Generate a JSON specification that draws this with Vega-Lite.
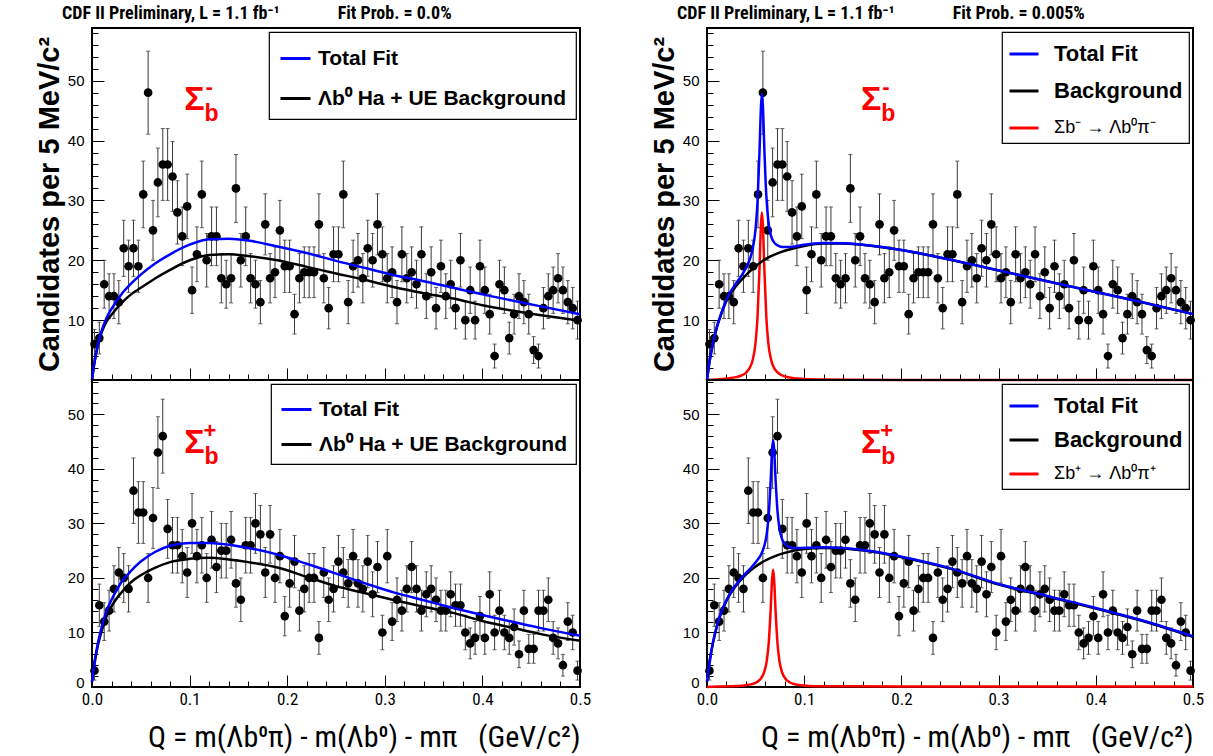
{
"$schema":"https://vega.github.io/schema/vega-lite/v6.json",
"background":"white",
"padding":{"left":34,"top":3,"right":5,"bottom":5},
"config":{"view":{"stroke":"black","strokeWidth":2},"font":"Liberation Sans","axis":{"grid":false,"domain":false,"tickColor":"black","labelColor":"black","titleColor":"black","tickWidth":1},"legend":{"orient":"top-right","offset":4,"fillColor":"white","strokeColor":"black","strokeWidth":1.2,"symbolType":"stroke","symbolStrokeWidth":3,"labelFont":"Liberation Sans","labelColor":"black","labelLimit":400}},
"datasets":{
"minus":[
{"q":0.0025,"v":6,"lo":3.55,"hi":8.45},{"q":0.0075,"v":7,"lo":4.35,"hi":9.65},{"q":0.0125,"v":16,"lo":12,"hi":20},{"q":0.0175,"v":14,"lo":10.26,"hi":17.74},{"q":0.0225,"v":14,"lo":10.26,"hi":17.74},{"q":0.0275,"v":13,"lo":9.39,"hi":16.61},{"q":0.0325,"v":22,"lo":17.31,"hi":26.69},{"q":0.0375,"v":19,"lo":14.64,"hi":23.36},{"q":0.0425,"v":22,"lo":17.31,"hi":26.69},{"q":0.0475,"v":19,"lo":14.64,"hi":23.36},
{"q":0.0525,"v":31,"lo":25.43,"hi":36.57},{"q":0.0575,"v":48,"lo":41.07,"hi":54.93},{"q":0.0625,"v":25,"lo":20,"hi":30},{"q":0.0675,"v":33,"lo":27.26,"hi":38.74},{"q":0.0725,"v":36,"lo":30,"hi":42},{"q":0.0775,"v":36,"lo":30,"hi":42},{"q":0.0825,"v":34,"lo":28.17,"hi":39.83},{"q":0.0875,"v":28,"lo":22.71,"hi":33.29},{"q":0.0925,"v":24,"lo":19.1,"hi":28.9},{"q":0.0975,"v":29,"lo":23.61,"hi":34.39},
{"q":0.1025,"v":15,"lo":11.13,"hi":18.87},{"q":0.1075,"v":21,"lo":16.42,"hi":25.58},{"q":0.1125,"v":31,"lo":25.43,"hi":36.57},{"q":0.1175,"v":20,"lo":15.53,"hi":24.47},{"q":0.1225,"v":24,"lo":19.1,"hi":28.9},{"q":0.1275,"v":24,"lo":19.1,"hi":28.9},{"q":0.1325,"v":17,"lo":12.88,"hi":21.12},{"q":0.1375,"v":16,"lo":12,"hi":20},{"q":0.1425,"v":17,"lo":12.88,"hi":21.12},{"q":0.1475,"v":32,"lo":26.34,"hi":37.66},
{"q":0.1525,"v":20,"lo":15.53,"hi":24.47},{"q":0.1575,"v":24,"lo":19.1,"hi":28.9},{"q":0.1625,"v":17,"lo":12.88,"hi":21.12},{"q":0.1675,"v":16,"lo":12,"hi":20},{"q":0.1725,"v":13,"lo":9.39,"hi":16.61},{"q":0.1775,"v":26,"lo":20.9,"hi":31.1},{"q":0.1825,"v":17,"lo":12.88,"hi":21.12},{"q":0.1875,"v":18,"lo":13.76,"hi":22.24},{"q":0.1925,"v":25,"lo":20,"hi":30},{"q":0.1975,"v":19,"lo":14.64,"hi":23.36},
{"q":0.2025,"v":19,"lo":14.64,"hi":23.36},{"q":0.2075,"v":11,"lo":7.68,"hi":14.32},{"q":0.2125,"v":17,"lo":12.88,"hi":21.12},{"q":0.2175,"v":18,"lo":13.76,"hi":22.24},{"q":0.2225,"v":18,"lo":13.76,"hi":22.24},{"q":0.2275,"v":18,"lo":13.76,"hi":22.24},{"q":0.2325,"v":26,"lo":20.9,"hi":31.1},{"q":0.2375,"v":17,"lo":12.88,"hi":21.12},{"q":0.2425,"v":12,"lo":8.54,"hi":15.46},{"q":0.2475,"v":21,"lo":16.42,"hi":25.58},
{"q":0.2525,"v":21,"lo":16.42,"hi":25.58},{"q":0.2575,"v":31,"lo":25.43,"hi":36.57},{"q":0.2625,"v":13,"lo":9.39,"hi":16.61},{"q":0.2675,"v":19,"lo":14.64,"hi":23.36},{"q":0.2725,"v":20,"lo":15.53,"hi":24.47},{"q":0.2775,"v":17,"lo":12.88,"hi":21.12},{"q":0.2825,"v":22,"lo":17.31,"hi":26.69},{"q":0.2875,"v":20,"lo":15.53,"hi":24.47},{"q":0.2925,"v":26,"lo":20.9,"hi":31.1},{"q":0.2975,"v":21,"lo":16.42,"hi":25.58},
{"q":0.3025,"v":17,"lo":12.88,"hi":21.12},{"q":0.3075,"v":18,"lo":13.76,"hi":22.24},{"q":0.3125,"v":13,"lo":9.39,"hi":16.61},{"q":0.3175,"v":21,"lo":16.42,"hi":25.58},{"q":0.3225,"v":17,"lo":12.88,"hi":21.12},{"q":0.3275,"v":18,"lo":13.76,"hi":22.24},{"q":0.3325,"v":16,"lo":12,"hi":20},{"q":0.3375,"v":21,"lo":16.42,"hi":25.58},{"q":0.3425,"v":14,"lo":10.26,"hi":17.74},{"q":0.3475,"v":18,"lo":13.76,"hi":22.24},
{"q":0.3525,"v":12,"lo":8.54,"hi":15.46},{"q":0.3575,"v":19,"lo":14.64,"hi":23.36},{"q":0.3625,"v":14,"lo":10.26,"hi":17.74},{"q":0.3675,"v":16,"lo":12,"hi":20},{"q":0.3725,"v":12,"lo":8.54,"hi":15.46},{"q":0.3775,"v":20,"lo":15.53,"hi":24.47},{"q":0.3825,"v":10,"lo":6.84,"hi":13.16},{"q":0.3875,"v":15,"lo":11.13,"hi":18.87},{"q":0.3925,"v":10,"lo":6.84,"hi":13.16},{"q":0.3975,"v":19,"lo":14.64,"hi":23.36},
{"q":0.4025,"v":15,"lo":11.13,"hi":18.87},{"q":0.4075,"v":11,"lo":7.68,"hi":14.32},{"q":0.4125,"v":4,"lo":2,"hi":6},{"q":0.4175,"v":16,"lo":12,"hi":20},{"q":0.4225,"v":15,"lo":11.13,"hi":18.87},{"q":0.4275,"v":7,"lo":4.35,"hi":9.65},{"q":0.4325,"v":11,"lo":7.68,"hi":14.32},{"q":0.4375,"v":14,"lo":10.26,"hi":17.74},{"q":0.4425,"v":13,"lo":9.39,"hi":16.61},{"q":0.4475,"v":11,"lo":7.68,"hi":14.32},
{"q":0.4525,"v":5,"lo":2.76,"hi":7.24},{"q":0.4575,"v":4,"lo":2,"hi":6},{"q":0.4625,"v":12,"lo":8.54,"hi":15.46},{"q":0.4675,"v":14,"lo":10.26,"hi":17.74},{"q":0.4725,"v":15,"lo":11.13,"hi":18.87},{"q":0.4775,"v":17,"lo":12.88,"hi":21.12},{"q":0.4825,"v":15,"lo":11.13,"hi":18.87},{"q":0.4875,"v":13,"lo":9.39,"hi":16.61},{"q":0.4925,"v":12,"lo":8.54,"hi":15.46},{"q":0.4975,"v":10,"lo":6.84,"hi":13.16}
],
"plus":[
{"q":0.0025,"v":3,"lo":1.27,"hi":4.73},{"q":0.0075,"v":15,"lo":11.13,"hi":18.87},{"q":0.0125,"v":12,"lo":8.54,"hi":15.46},{"q":0.0175,"v":14,"lo":10.26,"hi":17.74},{"q":0.0225,"v":18,"lo":13.76,"hi":22.24},{"q":0.0275,"v":21,"lo":16.42,"hi":25.58},{"q":0.0325,"v":20,"lo":15.53,"hi":24.47},{"q":0.0375,"v":18,"lo":13.76,"hi":22.24},{"q":0.0425,"v":36,"lo":30,"hi":42},{"q":0.0475,"v":32,"lo":26.34,"hi":37.66},
{"q":0.0525,"v":32,"lo":26.34,"hi":37.66},{"q":0.0575,"v":20,"lo":15.53,"hi":24.47},{"q":0.0625,"v":31,"lo":25.43,"hi":36.57},{"q":0.0675,"v":43,"lo":36.44,"hi":49.56},{"q":0.0725,"v":46,"lo":39.22,"hi":52.78},{"q":0.0775,"v":29,"lo":23.61,"hi":34.39},{"q":0.0825,"v":26,"lo":20.9,"hi":31.1},{"q":0.0875,"v":26,"lo":20.9,"hi":31.1},{"q":0.0925,"v":24,"lo":19.1,"hi":28.9},{"q":0.0975,"v":21,"lo":16.42,"hi":25.58},
{"q":0.1025,"v":30,"lo":24.52,"hi":35.48},{"q":0.1075,"v":24,"lo":19.1,"hi":28.9},{"q":0.1125,"v":26,"lo":20.9,"hi":31.1},{"q":0.1175,"v":20,"lo":15.53,"hi":24.47},{"q":0.1225,"v":27,"lo":21.8,"hi":32.2},{"q":0.1275,"v":22,"lo":17.31,"hi":26.69},{"q":0.1325,"v":25,"lo":20,"hi":30},{"q":0.1375,"v":25,"lo":20,"hi":30},{"q":0.1425,"v":27,"lo":21.8,"hi":32.2},{"q":0.1475,"v":19,"lo":14.64,"hi":23.36},
{"q":0.1525,"v":16,"lo":12,"hi":20},{"q":0.1575,"v":26,"lo":20.9,"hi":31.1},{"q":0.1625,"v":26,"lo":20.9,"hi":31.1},{"q":0.1675,"v":30,"lo":24.52,"hi":35.48},{"q":0.1725,"v":28,"lo":22.71,"hi":33.29},{"q":0.1775,"v":21,"lo":16.42,"hi":25.58},{"q":0.1825,"v":28,"lo":22.71,"hi":33.29},{"q":0.1875,"v":20,"lo":15.53,"hi":24.47},{"q":0.1925,"v":24,"lo":19.1,"hi":28.9},{"q":0.1975,"v":13,"lo":9.39,"hi":16.61},
{"q":0.2025,"v":19,"lo":14.64,"hi":23.36},{"q":0.2075,"v":23,"lo":18.2,"hi":27.8},{"q":0.2125,"v":14,"lo":10.26,"hi":17.74},{"q":0.2175,"v":18,"lo":13.76,"hi":22.24},{"q":0.2225,"v":20,"lo":15.53,"hi":24.47},{"q":0.2275,"v":20,"lo":15.53,"hi":24.47},{"q":0.2325,"v":9,"lo":6,"hi":12},{"q":0.2375,"v":21,"lo":16.42,"hi":25.58},{"q":0.2425,"v":16,"lo":12,"hi":20},{"q":0.2475,"v":18,"lo":13.76,"hi":22.24},
{"q":0.2525,"v":23,"lo":18.2,"hi":27.8},{"q":0.2575,"v":21,"lo":16.42,"hi":25.58},{"q":0.2625,"v":19,"lo":14.64,"hi":23.36},{"q":0.2675,"v":24,"lo":19.1,"hi":28.9},{"q":0.2725,"v":19,"lo":14.64,"hi":23.36},{"q":0.2775,"v":18,"lo":13.76,"hi":22.24},{"q":0.2825,"v":23,"lo":18.2,"hi":27.8},{"q":0.2875,"v":17,"lo":12.88,"hi":21.12},{"q":0.2925,"v":22,"lo":17.31,"hi":26.69},{"q":0.2975,"v":10,"lo":6.84,"hi":13.16},
{"q":0.3025,"v":24,"lo":19.1,"hi":28.9},{"q":0.3075,"v":12,"lo":8.54,"hi":15.46},{"q":0.3125,"v":16,"lo":12,"hi":20},{"q":0.3175,"v":14,"lo":10.26,"hi":17.74},{"q":0.3225,"v":18,"lo":13.76,"hi":22.24},{"q":0.3275,"v":22,"lo":17.31,"hi":26.69},{"q":0.3325,"v":18,"lo":13.76,"hi":22.24},{"q":0.3375,"v":14,"lo":10.26,"hi":17.74},{"q":0.3425,"v":17,"lo":12.88,"hi":21.12},{"q":0.3475,"v":18,"lo":13.76,"hi":22.24},
{"q":0.3525,"v":16,"lo":12,"hi":20},{"q":0.3575,"v":14,"lo":10.26,"hi":17.74},{"q":0.3625,"v":14,"lo":10.26,"hi":17.74},{"q":0.3675,"v":17,"lo":12.88,"hi":21.12},{"q":0.3725,"v":15,"lo":11.13,"hi":18.87},{"q":0.3775,"v":15,"lo":11.13,"hi":18.87},{"q":0.3825,"v":10,"lo":6.84,"hi":13.16},{"q":0.3875,"v":8,"lo":5.17,"hi":10.83},{"q":0.3925,"v":9,"lo":6,"hi":12},{"q":0.3975,"v":13,"lo":9.39,"hi":16.61},
{"q":0.4025,"v":9,"lo":6,"hi":12},{"q":0.4075,"v":17,"lo":12.88,"hi":21.12},{"q":0.4125,"v":10,"lo":6.84,"hi":13.16},{"q":0.4175,"v":14,"lo":10.26,"hi":17.74},{"q":0.4225,"v":10,"lo":6.84,"hi":13.16},{"q":0.4275,"v":9,"lo":6,"hi":12},{"q":0.4325,"v":11,"lo":7.68,"hi":14.32},{"q":0.4375,"v":6,"lo":3.55,"hi":8.45},{"q":0.4425,"v":14,"lo":10.26,"hi":17.74},{"q":0.4475,"v":7,"lo":4.35,"hi":9.65},
{"q":0.4525,"v":7,"lo":4.35,"hi":9.65},{"q":0.4575,"v":14,"lo":10.26,"hi":17.74},{"q":0.4625,"v":14,"lo":10.26,"hi":17.74},{"q":0.4675,"v":16,"lo":12,"hi":20},{"q":0.4725,"v":9,"lo":6,"hi":12},{"q":0.4775,"v":8,"lo":5.17,"hi":10.83},{"q":0.4825,"v":4,"lo":2,"hi":6},{"q":0.4875,"v":12,"lo":8.54,"hi":15.46},{"q":0.4925,"v":10,"lo":6.84,"hi":13.16},{"q":0.4975,"v":3,"lo":1.27,"hi":4.73}
],
"cTL":[
{"q":0,"v":0,"c":"B"},{"q":0.002,"v":2.4,"c":"B"},{"q":0.005,"v":5.0,"c":"B"},{"q":0.01,"v":8.0,"c":"B"},{"q":0.015,"v":9.8,"c":"B"},{"q":0.02,"v":10.9,"c":"B"},{"q":0.03,"v":12.8,"c":"B"},{"q":0.04,"v":14.3,"c":"B"},{"q":0.05,"v":15.4,"c":"B"},{"q":0.065,"v":17.0,"c":"B"},{"q":0.08,"v":18.4,"c":"B"},{"q":0.1,"v":20.0,"c":"B"},{"q":0.12,"v":20.9,"c":"B"},{"q":0.14,"v":21.0,"c":"B"},{"q":0.16,"v":20.7,"c":"B"},{"q":0.19,"v":20.0,"c":"B"},{"q":0.22,"v":18.9,"c":"B"},{"q":0.25,"v":17.8,"c":"B"},{"q":0.28,"v":16.7,"c":"B"},{"q":0.31,"v":15.5,"c":"B"},{"q":0.34,"v":14.5,"c":"B"},{"q":0.37,"v":13.6,"c":"B"},{"q":0.4,"v":12.5,"c":"B"},{"q":0.43,"v":11.6,"c":"B"},{"q":0.46,"v":10.8,"c":"B"},{"q":0.5,"v":9.9,"c":"B"},
{"q":0,"v":0,"c":"T"},{"q":0.002,"v":2.4,"c":"T"},{"q":0.005,"v":5.2,"c":"T"},{"q":0.01,"v":8.3,"c":"T"},{"q":0.015,"v":10.4,"c":"T"},{"q":0.02,"v":11.9,"c":"T"},{"q":0.03,"v":14.3,"c":"T"},{"q":0.04,"v":16.1,"c":"T"},{"q":0.05,"v":17.6,"c":"T"},{"q":0.065,"v":19.5,"c":"T"},{"q":0.08,"v":21.0,"c":"T"},{"q":0.1,"v":22.6,"c":"T"},{"q":0.12,"v":23.5,"c":"T"},{"q":0.14,"v":23.6,"c":"T"},{"q":0.16,"v":23.3,"c":"T"},{"q":0.19,"v":22.3,"c":"T"},{"q":0.22,"v":21.2,"c":"T"},{"q":0.25,"v":19.9,"c":"T"},{"q":0.28,"v":18.7,"c":"T"},{"q":0.31,"v":17.5,"c":"T"},{"q":0.34,"v":16.5,"c":"T"},{"q":0.37,"v":15.4,"c":"T"},{"q":0.4,"v":14.3,"c":"T"},{"q":0.43,"v":13.3,"c":"T"},{"q":0.46,"v":12.3,"c":"T"},{"q":0.5,"v":11.0,"c":"T"}
],
"cBL":[
{"q":0,"v":1,"c":"B"},{"q":0.003,"v":4.8,"c":"B"},{"q":0.006,"v":7.6,"c":"B"},{"q":0.01,"v":10.4,"c":"B"},{"q":0.015,"v":13,"c":"B"},{"q":0.02,"v":14.8,"c":"B"},{"q":0.03,"v":17.3,"c":"B"},{"q":0.04,"v":19.2,"c":"B"},{"q":0.05,"v":20.5,"c":"B"},{"q":0.065,"v":21.9,"c":"B"},{"q":0.08,"v":22.9,"c":"B"},{"q":0.1,"v":23.5,"c":"B"},{"q":0.12,"v":23.7,"c":"B"},{"q":0.14,"v":23.4,"c":"B"},{"q":0.16,"v":22.9,"c":"B"},{"q":0.19,"v":21.9,"c":"B"},{"q":0.22,"v":20.2,"c":"B"},{"q":0.25,"v":18.5,"c":"B"},{"q":0.28,"v":17.2,"c":"B"},{"q":0.31,"v":15.9,"c":"B"},{"q":0.34,"v":14.7,"c":"B"},{"q":0.37,"v":13.6,"c":"B"},{"q":0.4,"v":12.1,"c":"B"},{"q":0.43,"v":10.9,"c":"B"},{"q":0.46,"v":9.7,"c":"B"},{"q":0.5,"v":8.5,"c":"B"},
{"q":0,"v":1,"c":"T"},{"q":0.003,"v":5,"c":"T"},{"q":0.006,"v":8,"c":"T"},{"q":0.01,"v":11,"c":"T"},{"q":0.015,"v":14,"c":"T"},{"q":0.02,"v":16,"c":"T"},{"q":0.03,"v":19.2,"c":"T"},{"q":0.04,"v":21.3,"c":"T"},{"q":0.05,"v":23,"c":"T"},{"q":0.065,"v":24.8,"c":"T"},{"q":0.08,"v":25.9,"c":"T"},{"q":0.1,"v":26.4,"c":"T"},{"q":0.12,"v":26.4,"c":"T"},{"q":0.14,"v":26.1,"c":"T"},{"q":0.16,"v":25.5,"c":"T"},{"q":0.19,"v":24.3,"c":"T"},{"q":0.22,"v":22.6,"c":"T"},{"q":0.25,"v":20.8,"c":"T"},{"q":0.28,"v":19.0,"c":"T"},{"q":0.31,"v":17.3,"c":"T"},{"q":0.34,"v":15.9,"c":"T"},{"q":0.37,"v":14.5,"c":"T"},{"q":0.4,"v":13.2,"c":"T"},{"q":0.43,"v":12.0,"c":"T"},{"q":0.46,"v":10.8,"c":"T"},{"q":0.5,"v":9.4,"c":"T"}
],
"cTR":[
{"q":0,"v":0,"c":"S"},{"q":0.01,"v":0.1,"c":"S"},{"q":0.02,"v":0.25,"c":"S"},{"q":0.03,"v":0.48,"c":"S"},{"q":0.035,"v":0.72,"c":"S"},{"q":0.04,"v":1.2,"c":"S"},{"q":0.044,"v":2.05,"c":"S"},{"q":0.047,"v":3.35,"c":"S"},{"q":0.05,"v":6.3,"c":"S"},{"q":0.052,"v":10.6,"c":"S"},{"q":0.054,"v":18.5,"c":"S"},{"q":0.0555,"v":25.9,"c":"S"},{"q":0.0565,"v":28,"c":"S"},{"q":0.0575,"v":25.9,"c":"S"},{"q":0.059,"v":18.5,"c":"S"},{"q":0.061,"v":10.6,"c":"S"},{"q":0.063,"v":6.3,"c":"S"},{"q":0.066,"v":3.35,"c":"S"},{"q":0.07,"v":1.76,"c":"S"},{"q":0.075,"v":0.97,"c":"S"},{"q":0.08,"v":0.6,"c":"S"},{"q":0.09,"v":0.3,"c":"S"},{"q":0.1,"v":0.18,"c":"S"},{"q":0.12,"v":0.08,"c":"S"},{"q":0.15,"v":0.04,"c":"S"},{"q":0.2,"v":0.02,"c":"S"},{"q":0.3,"v":0.01,"c":"S"},{"q":0.5,"v":0.01,"c":"S"},
{"q":0,"v":0,"c":"B"},{"q":0.003,"v":3.5,"c":"B"},{"q":0.006,"v":6,"c":"B"},{"q":0.01,"v":8.7,"c":"B"},{"q":0.015,"v":11.2,"c":"B"},{"q":0.02,"v":13.2,"c":"B"},{"q":0.03,"v":15.7,"c":"B"},{"q":0.04,"v":17.5,"c":"B"},{"q":0.05,"v":19.0,"c":"B"},{"q":0.06,"v":20.2,"c":"B"},{"q":0.07,"v":21.0,"c":"B"},{"q":0.08,"v":21.6,"c":"B"},{"q":0.1,"v":22.4,"c":"B"},{"q":0.12,"v":22.8,"c":"B"},{"q":0.14,"v":22.8,"c":"B"},{"q":0.17,"v":22.4,"c":"B"},{"q":0.2,"v":21.7,"c":"B"},{"q":0.25,"v":20.1,"c":"B"},{"q":0.3,"v":18.3,"c":"B"},{"q":0.35,"v":16.5,"c":"B"},{"q":0.4,"v":14.7,"c":"B"},{"q":0.45,"v":12.9,"c":"B"},{"q":0.5,"v":11.0,"c":"B"},
{"q":0,"v":0,"c":"T"},{"q":0.003,"v":3.5,"c":"T"},{"q":0.006,"v":6,"c":"T"},{"q":0.01,"v":8.8,"c":"T"},{"q":0.015,"v":11.3,"c":"T"},{"q":0.02,"v":13.45,"c":"T"},{"q":0.03,"v":16.2,"c":"T"},{"q":0.035,"v":17.3,"c":"T"},{"q":0.04,"v":18.7,"c":"T"},{"q":0.044,"v":20.15,"c":"T"},{"q":0.047,"v":21.9,"c":"T"},{"q":0.05,"v":25.3,"c":"T"},{"q":0.052,"v":29.8,"c":"T"},{"q":0.054,"v":38.0,"c":"T"},{"q":0.0555,"v":45.6,"c":"T"},{"q":0.0565,"v":47.8,"c":"T"},{"q":0.0575,"v":45.8,"c":"T"},{"q":0.059,"v":38.6,"c":"T"},{"q":0.061,"v":30.9,"c":"T"},{"q":0.063,"v":26.7,"c":"T"},{"q":0.066,"v":24.0,"c":"T"},{"q":0.07,"v":22.8,"c":"T"},{"q":0.075,"v":22.3,"c":"T"},{"q":0.08,"v":22.2,"c":"T"},{"q":0.09,"v":22.3,"c":"T"},{"q":0.1,"v":22.6,"c":"T"},{"q":0.12,"v":22.9,"c":"T"},{"q":0.14,"v":22.85,"c":"T"},{"q":0.17,"v":22.42,"c":"T"},{"q":0.2,"v":21.72,"c":"T"},{"q":0.25,"v":20.11,"c":"T"},{"q":0.3,"v":18.31,"c":"T"},{"q":0.35,"v":16.5,"c":"T"},{"q":0.4,"v":14.7,"c":"T"},{"q":0.45,"v":12.9,"c":"T"},{"q":0.5,"v":11.0,"c":"T"}
],
"cBR":[
{"q":0,"v":0,"c":"S"},{"q":0.01,"v":0.08,"c":"S"},{"q":0.02,"v":0.12,"c":"S"},{"q":0.03,"v":0.18,"c":"S"},{"q":0.04,"v":0.33,"c":"S"},{"q":0.046,"v":0.53,"c":"S"},{"q":0.0515,"v":0.93,"c":"S"},{"q":0.055,"v":1.45,"c":"S"},{"q":0.0585,"v":2.57,"c":"S"},{"q":0.0615,"v":4.8,"c":"S"},{"q":0.0635,"v":8.1,"c":"S"},{"q":0.0655,"v":14.2,"c":"S"},{"q":0.067,"v":19.85,"c":"S"},{"q":0.068,"v":21.5,"c":"S"},{"q":0.069,"v":19.85,"c":"S"},{"q":0.0705,"v":14.2,"c":"S"},{"q":0.0725,"v":8.1,"c":"S"},{"q":0.0745,"v":4.8,"c":"S"},{"q":0.0775,"v":2.57,"c":"S"},{"q":0.0805,"v":1.57,"c":"S"},{"q":0.0845,"v":0.93,"c":"S"},{"q":0.0895,"v":0.55,"c":"S"},{"q":0.0945,"v":0.37,"c":"S"},{"q":0.1045,"v":0.2,"c":"S"},{"q":0.12,"v":0.15,"c":"S"},{"q":0.15,"v":0.12,"c":"S"},{"q":0.2,"v":0.1,"c":"S"},{"q":0.3,"v":0.1,"c":"S"},{"q":0.4,"v":0.1,"c":"S"},{"q":0.5,"v":0.1,"c":"S"},
{"q":0,"v":1,"c":"B"},{"q":0.003,"v":5,"c":"B"},{"q":0.006,"v":8,"c":"B"},{"q":0.01,"v":11,"c":"B"},{"q":0.015,"v":13.8,"c":"B"},{"q":0.02,"v":15.8,"c":"B"},{"q":0.03,"v":18.6,"c":"B"},{"q":0.04,"v":20.6,"c":"B"},{"q":0.05,"v":22.1,"c":"B"},{"q":0.06,"v":23.2,"c":"B"},{"q":0.07,"v":24.0,"c":"B"},{"q":0.08,"v":24.6,"c":"B"},{"q":0.1,"v":25.3,"c":"B"},{"q":0.12,"v":25.5,"c":"B"},{"q":0.14,"v":25.4,"c":"B"},{"q":0.17,"v":24.8,"c":"B"},{"q":0.2,"v":23.8,"c":"B"},{"q":0.25,"v":21.7,"c":"B"},{"q":0.3,"v":18.8,"c":"B"},{"q":0.35,"v":16.6,"c":"B"},{"q":0.4,"v":14.4,"c":"B"},{"q":0.45,"v":12.0,"c":"B"},{"q":0.5,"v":9.2,"c":"B"},
{"q":0,"v":1,"c":"T"},{"q":0.003,"v":5,"c":"T"},{"q":0.006,"v":8,"c":"T"},{"q":0.01,"v":11.1,"c":"T"},{"q":0.015,"v":13.9,"c":"T"},{"q":0.02,"v":15.9,"c":"T"},{"q":0.03,"v":18.8,"c":"T"},{"q":0.04,"v":20.9,"c":"T"},{"q":0.046,"v":22.0,"c":"T"},{"q":0.0515,"v":23.2,"c":"T"},{"q":0.055,"v":24.1,"c":"T"},{"q":0.0585,"v":25.6,"c":"T"},{"q":0.0615,"v":28.1,"c":"T"},{"q":0.0635,"v":31.6,"c":"T"},{"q":0.0655,"v":37.8,"c":"T"},{"q":0.067,"v":43.6,"c":"T"},{"q":0.068,"v":45.3,"c":"T"},{"q":0.069,"v":43.8,"c":"T"},{"q":0.0705,"v":38.2,"c":"T"},{"q":0.0725,"v":32.3,"c":"T"},{"q":0.0745,"v":29.1,"c":"T"},{"q":0.0775,"v":27.0,"c":"T"},{"q":0.0805,"v":26.2,"c":"T"},{"q":0.0845,"v":25.7,"c":"T"},{"q":0.0895,"v":25.5,"c":"T"},{"q":0.0945,"v":25.5,"c":"T"},{"q":0.1045,"v":25.55,"c":"T"},{"q":0.12,"v":25.65,"c":"T"},{"q":0.14,"v":25.5,"c":"T"},{"q":0.17,"v":24.9,"c":"T"},{"q":0.2,"v":23.9,"c":"T"},{"q":0.25,"v":21.8,"c":"T"},{"q":0.3,"v":18.9,"c":"T"},{"q":0.35,"v":16.7,"c":"T"},{"q":0.4,"v":14.5,"c":"T"},{"q":0.45,"v":12.1,"c":"T"},{"q":0.5,"v":9.3,"c":"T"}
],
"labels":[
{"p":"TL","q":0.105,"v":46.8,"s":"-"},{"p":"BL","q":0.105,"v":44.7,"s":"+"},{"p":"TR","q":0.169,"v":46.8,"s":"-"},{"p":"BR","q":0.169,"v":44.7,"s":"+"}
]
},
"hconcat":[
{"vconcat":[
{"width":488,"height":352,
"title":{"text":"CDF II Preliminary, L = 1.1 fb⁻¹\u00a0\u00a0\u00a0\u00a0\u00a0\u00a0\u00a0\u00a0\u00a0\u00a0\u00a0\u00a0\u00a0\u00a0Fit Prob. = 0.0%","anchor":"start","frame":"group","dx":-30,"font":"Liberation Sans Narrow, Roboto Condensed, DejaVu Sans Condensed, Liberation Sans","fontSize":18,"fontWeight":"bold","offset":3,"color":"black"},
"encoding":{
"x":{"field":"q","type":"quantitative","scale":{"domain":[0,0.5],"nice":false,"zero":false},"axis":{"values":[0,0.02,0.04,0.06,0.08,0.1,0.12,0.14,0.16,0.18,0.2,0.22,0.24,0.26,0.28,0.3,0.32,0.34,0.36,0.38,0.4,0.42,0.44,0.46,0.48,0.5],"labels":false,"title":null,"tickSize":{"condition":{"test":"abs(datum.value*10-round(datum.value*10))<0.001","value":-12},"value":-6}}},
"y":{"field":"v","type":"quantitative","scale":{"domain":[0,58.8],"nice":false,"zero":true},"axis":{"values":[0,2,4,6,8,10,12,14,16,18,20,22,24,26,28,30,32,34,36,38,40,42,44,46,48,50,52,54,56,58],"labelExpr":"datum.value>0 && datum.value%10==0 ? datum.label : ''","labelOverlap":false,"labelFontSize":15,"labelPadding":20,"title":"Candidates per 5 MeV/c²","titleFontSize":29,"titleFontWeight":"bold","titlePadding":3,"tickSize":{"condition":{"test":"datum.value%10==0","value":-12},"value":-6}}}
},
"layer":[
{"data":{"name":"minus"},"mark":{"type":"errorbar","color":"#3a3a3a","thickness":1,"ticks":{"size":4,"color":"#222222"}},"encoding":{"y":{"field":"lo","type":"quantitative","scale":{"domain":[0,58.8],"nice":false,"zero":true},"axis":{"values":[0,2,4,6,8,10,12,14,16,18,20,22,24,26,28,30,32,34,36,38,40,42,44,46,48,50,52,54,56,58],"labelExpr":"datum.value>0 && datum.value%10==0 ? datum.label : ''","labelOverlap":false,"labelFontSize":15,"labelPadding":20,"title":"Candidates per 5 MeV/c²","titleFontSize":29,"titleFontWeight":"bold","titlePadding":3,"tickSize":{"condition":{"test":"datum.value%10==0","value":-12},"value":-6}}},"y2":{"field":"hi"}}},
{"data":{"name":"minus"},"mark":{"type":"circle","size":75,"color":"black","opacity":1}},
{"data":{"name":"cTL"},"transform":[{"filter":"datum.c!='T'"}],"mark":{"type":"line","strokeWidth":2.5,"interpolate":"monotone"},"encoding":{"color":{"field":"c","type":"nominal","scale":{"domain":["T","B"],"range":["#0000ff","#000000"]},"legend":{"title":null,"padding":10,"symbolSize":900,"labelFontSize":21,"labelFontWeight":"bold","labelOffset":6,"rowPadding":13,"labelExpr":"datum.label=='T' ? '\u00a0\u00a0Total Fit' : 'Λb⁰ Ha + UE Background'"}}}},
{"data":{"name":"cTL"},"transform":[{"filter":"datum.c=='T'"}],"mark":{"type":"line","strokeWidth":2.5,"interpolate":"monotone"},"encoding":{"color":{"field":"c","type":"nominal","scale":{"domain":["T","B"],"range":["#0000ff","#000000"]},"legend":{"title":null,"padding":10,"symbolSize":900,"labelFontSize":21,"labelFontWeight":"bold","labelOffset":6,"rowPadding":13,"labelExpr":"datum.label=='T' ? '\u00a0\u00a0Total Fit' : 'Λb⁰ Ha + UE Background'"}}}},
{"data":{"name":"labels"},"transform":[{"filter":"datum.p=='TL'"}],"mark":{"type":"text","text":"Σ","fontSize":34,"fontWeight":"bold","color":"#ff0000","align":"center","baseline":"middle"}},
{"data":{"name":"labels"},"transform":[{"filter":"datum.p=='TL'"}],"mark":{"type":"text","text":"b","fontSize":23,"fontWeight":"bold","color":"#ff0000","align":"left","baseline":"middle","dx":10,"dy":14}},
{"data":{"name":"labels"},"transform":[{"filter":"datum.p=='TL'"}],"mark":{"type":"text","fontSize":22,"fontWeight":"bold","color":"#ff0000","align":"left","baseline":"middle","dx":11,"dy":-13},"encoding":{"text":{"field":"s"}}}
]},
{"width":488,"height":307,
"encoding":{
"x":{"field":"q","type":"quantitative","scale":{"domain":[0,0.5],"nice":false,"zero":false},"axis":{"values":[0,0.02,0.04,0.06,0.08,0.1,0.12,0.14,0.16,0.18,0.2,0.22,0.24,0.26,0.28,0.3,0.32,0.34,0.36,0.38,0.4,0.42,0.44,0.46,0.48,0.5],"labelExpr":"abs(datum.value*10-round(datum.value*10))<0.001 ? format(datum.value,'.1f') : ''","labelOverlap":false,"labelFlush":false,"labelFont":"Liberation Sans Narrow, Roboto Condensed, DejaVu Sans Condensed, Liberation Sans","labelFontSize":17,"labelPadding":16,"title":"Q = m(Λb⁰π) - m(Λb⁰) - mπ\u00a0\u00a0\u00a0(GeV/c²)","titleFont":"Liberation Sans Narrow, Roboto Condensed, DejaVu Sans Condensed, Liberation Sans","titleFontSize":30,"titleFontWeight":"normal","titleAnchor":"end","titlePadding":9,"tickSize":{"condition":{"test":"abs(datum.value*10-round(datum.value*10))<0.001","value":-12},"value":-6}}},
"y":{"field":"v","type":"quantitative","scale":{"domain":[0,56.3],"nice":false,"zero":true},"axis":{"values":[0,2,4,6,8,10,12,14,16,18,20,22,24,26,28,30,32,34,36,38,40,42,44,46,48,50,52,54,56],"labelExpr":"datum.value%10==0 ? datum.label : ''","labelBaseline":{"condition":{"test":"datum.value==0","value":"alphabetic"},"value":"middle"},"labelOverlap":false,"labelFontSize":15,"labelPadding":20,"title":null,"tickSize":{"condition":{"test":"datum.value%10==0","value":-12},"value":-6}}}
},
"layer":[
{"data":{"name":"plus"},"mark":{"type":"errorbar","color":"#3a3a3a","thickness":1,"ticks":{"size":4,"color":"#222222"}},"encoding":{"y":{"field":"lo","type":"quantitative","scale":{"domain":[0,56.3],"nice":false,"zero":true},"axis":{"values":[0,2,4,6,8,10,12,14,16,18,20,22,24,26,28,30,32,34,36,38,40,42,44,46,48,50,52,54,56],"labelExpr":"datum.value%10==0 ? datum.label : ''","labelBaseline":{"condition":{"test":"datum.value==0","value":"alphabetic"},"value":"middle"},"labelOverlap":false,"labelFontSize":15,"labelPadding":20,"title":null,"tickSize":{"condition":{"test":"datum.value%10==0","value":-12},"value":-6}}},"y2":{"field":"hi"}}},
{"data":{"name":"plus"},"mark":{"type":"circle","size":75,"color":"black","opacity":1}},
{"data":{"name":"cBL"},"transform":[{"filter":"datum.c!='T'"}],"mark":{"type":"line","strokeWidth":2.5,"interpolate":"monotone"},"encoding":{"color":{"field":"c","type":"nominal","scale":{"domain":["T","B"],"range":["#0000ff","#000000"]},"legend":{"title":null,"padding":9,"symbolSize":900,"labelFontSize":21,"labelFontWeight":"bold","labelOffset":6,"rowPadding":8,"labelExpr":"datum.label=='T' ? '\u00a0\u00a0Total Fit' : 'Λb⁰ Ha + UE Background'"}}}},
{"data":{"name":"cBL"},"transform":[{"filter":"datum.c=='T'"}],"mark":{"type":"line","strokeWidth":2.5,"interpolate":"monotone"},"encoding":{"color":{"field":"c","type":"nominal","scale":{"domain":["T","B"],"range":["#0000ff","#000000"]},"legend":{"title":null,"padding":9,"symbolSize":900,"labelFontSize":21,"labelFontWeight":"bold","labelOffset":6,"rowPadding":8,"labelExpr":"datum.label=='T' ? '\u00a0\u00a0Total Fit' : 'Λb⁰ Ha + UE Background'"}}}},
{"data":{"name":"labels"},"transform":[{"filter":"datum.p=='BL'"}],"mark":{"type":"text","text":"Σ","fontSize":34,"fontWeight":"bold","color":"#ff0000","align":"center","baseline":"middle"}},
{"data":{"name":"labels"},"transform":[{"filter":"datum.p=='BL'"}],"mark":{"type":"text","text":"b","fontSize":23,"fontWeight":"bold","color":"#ff0000","align":"left","baseline":"middle","dx":10,"dy":14}},
{"data":{"name":"labels"},"transform":[{"filter":"datum.p=='BL'"}],"mark":{"type":"text","fontSize":22,"fontWeight":"bold","color":"#ff0000","align":"left","baseline":"middle","dx":9,"dy":-12},"encoding":{"text":{"field":"s"}}}
]}
],"spacing":0,"bounds":"flush","resolve":{"scale":{"x":"independent","y":"independent","color":"independent"},"legend":{"color":"independent"}}},
{"vconcat":[
{"width":486,"height":352,
"title":{"text":"CDF II Preliminary, L = 1.1 fb⁻¹\u00a0\u00a0\u00a0\u00a0\u00a0\u00a0\u00a0\u00a0\u00a0\u00a0\u00a0\u00a0\u00a0\u00a0Fit Prob. = 0.005%","anchor":"start","frame":"group","dx":-30,"font":"Liberation Sans Narrow, Roboto Condensed, DejaVu Sans Condensed, Liberation Sans","fontSize":18,"fontWeight":"bold","offset":3,"color":"black"},
"encoding":{
"x":{"field":"q","type":"quantitative","scale":{"domain":[0,0.5],"nice":false,"zero":false},"axis":{"values":[0,0.02,0.04,0.06,0.08,0.1,0.12,0.14,0.16,0.18,0.2,0.22,0.24,0.26,0.28,0.3,0.32,0.34,0.36,0.38,0.4,0.42,0.44,0.46,0.48,0.5],"labels":false,"title":null,"tickSize":{"condition":{"test":"abs(datum.value*10-round(datum.value*10))<0.001","value":-12},"value":-6}}},
"y":{"field":"v","type":"quantitative","scale":{"domain":[0,58.8],"nice":false,"zero":true},"axis":{"values":[0,2,4,6,8,10,12,14,16,18,20,22,24,26,28,30,32,34,36,38,40,42,44,46,48,50,52,54,56,58],"labelExpr":"datum.value>0 && datum.value%10==0 ? datum.label : ''","labelOverlap":false,"labelFontSize":15,"labelPadding":20,"title":"Candidates per 5 MeV/c²","titleFontSize":29,"titleFontWeight":"bold","titlePadding":3,"tickSize":{"condition":{"test":"datum.value%10==0","value":-12},"value":-6}}}
},
"layer":[
{"data":{"name":"minus"},"mark":{"type":"errorbar","color":"#3a3a3a","thickness":1,"ticks":{"size":4,"color":"#222222"}},"encoding":{"y":{"field":"lo","type":"quantitative","scale":{"domain":[0,58.8],"nice":false,"zero":true},"axis":{"values":[0,2,4,6,8,10,12,14,16,18,20,22,24,26,28,30,32,34,36,38,40,42,44,46,48,50,52,54,56,58],"labelExpr":"datum.value>0 && datum.value%10==0 ? datum.label : ''","labelOverlap":false,"labelFontSize":15,"labelPadding":20,"title":"Candidates per 5 MeV/c²","titleFontSize":29,"titleFontWeight":"bold","titlePadding":3,"tickSize":{"condition":{"test":"datum.value%10==0","value":-12},"value":-6}}},"y2":{"field":"hi"}}},
{"data":{"name":"minus"},"mark":{"type":"circle","size":75,"color":"black","opacity":1}},
{"data":{"name":"cTR"},"transform":[{"filter":"datum.c!='T'"}],"mark":{"type":"line","strokeWidth":2.5,"interpolate":"monotone"},"encoding":{"color":{"field":"c","type":"nominal","scale":{"domain":["T","B","S"],"range":["#0000ff","#000000","#ff0000"]},"legend":{"title":null,"padding":6,"symbolSize":841,"labelFontSize":{"expr":"datum.value=='S' ? 18 : 22"},"labelFontWeight":{"expr":"datum.value=='S' ? 'normal' : 'bold'"},"labelOffset":14,"rowPadding":10,"labelExpr":"datum.label=='T' ? 'Total Fit' : datum.label=='B' ? 'Background' : 'Σb⁻ → Λb⁰π⁻'"}}}},
{"data":{"name":"cTR"},"transform":[{"filter":"datum.c=='T'"}],"mark":{"type":"line","strokeWidth":2.5,"interpolate":"monotone"},"encoding":{"color":{"field":"c","type":"nominal","scale":{"domain":["T","B","S"],"range":["#0000ff","#000000","#ff0000"]},"legend":{"title":null,"padding":6,"symbolSize":841,"labelFontSize":{"expr":"datum.value=='S' ? 18 : 22"},"labelFontWeight":{"expr":"datum.value=='S' ? 'normal' : 'bold'"},"labelOffset":14,"rowPadding":10,"labelExpr":"datum.label=='T' ? 'Total Fit' : datum.label=='B' ? 'Background' : 'Σb⁻ → Λb⁰π⁻'"}}}},
{"data":{"name":"labels"},"transform":[{"filter":"datum.p=='TR'"}],"mark":{"type":"text","text":"Σ","fontSize":34,"fontWeight":"bold","color":"#ff0000","align":"center","baseline":"middle"}},
{"data":{"name":"labels"},"transform":[{"filter":"datum.p=='TR'"}],"mark":{"type":"text","text":"b","fontSize":23,"fontWeight":"bold","color":"#ff0000","align":"left","baseline":"middle","dx":10,"dy":14}},
{"data":{"name":"labels"},"transform":[{"filter":"datum.p=='TR'"}],"mark":{"type":"text","fontSize":22,"fontWeight":"bold","color":"#ff0000","align":"left","baseline":"middle","dx":11,"dy":-13},"encoding":{"text":{"field":"s"}}}
]},
{"width":486,"height":307,
"encoding":{
"x":{"field":"q","type":"quantitative","scale":{"domain":[0,0.5],"nice":false,"zero":false},"axis":{"values":[0,0.02,0.04,0.06,0.08,0.1,0.12,0.14,0.16,0.18,0.2,0.22,0.24,0.26,0.28,0.3,0.32,0.34,0.36,0.38,0.4,0.42,0.44,0.46,0.48,0.5],"labelExpr":"abs(datum.value*10-round(datum.value*10))<0.001 ? format(datum.value,'.1f') : ''","labelOverlap":false,"labelFlush":false,"labelFont":"Liberation Sans Narrow, Roboto Condensed, DejaVu Sans Condensed, Liberation Sans","labelFontSize":17,"labelPadding":16,"title":"Q = m(Λb⁰π) - m(Λb⁰) - mπ\u00a0\u00a0\u00a0(GeV/c²)","titleFont":"Liberation Sans Narrow, Roboto Condensed, DejaVu Sans Condensed, Liberation Sans","titleFontSize":30,"titleFontWeight":"normal","titleAnchor":"end","titlePadding":9,"tickSize":{"condition":{"test":"abs(datum.value*10-round(datum.value*10))<0.001","value":-12},"value":-6}}},
"y":{"field":"v","type":"quantitative","scale":{"domain":[0,56.3],"nice":false,"zero":true},"axis":{"values":[0,2,4,6,8,10,12,14,16,18,20,22,24,26,28,30,32,34,36,38,40,42,44,46,48,50,52,54,56],"labelExpr":"datum.value%10==0 ? datum.label : ''","labelBaseline":{"condition":{"test":"datum.value==0","value":"alphabetic"},"value":"middle"},"labelOverlap":false,"labelFontSize":15,"labelPadding":20,"title":null,"tickSize":{"condition":{"test":"datum.value%10==0","value":-12},"value":-6}}}
},
"layer":[
{"data":{"name":"plus"},"mark":{"type":"errorbar","color":"#3a3a3a","thickness":1,"ticks":{"size":4,"color":"#222222"}},"encoding":{"y":{"field":"lo","type":"quantitative","scale":{"domain":[0,56.3],"nice":false,"zero":true},"axis":{"values":[0,2,4,6,8,10,12,14,16,18,20,22,24,26,28,30,32,34,36,38,40,42,44,46,48,50,52,54,56],"labelExpr":"datum.value%10==0 ? datum.label : ''","labelBaseline":{"condition":{"test":"datum.value==0","value":"alphabetic"},"value":"middle"},"labelOverlap":false,"labelFontSize":15,"labelPadding":20,"title":null,"tickSize":{"condition":{"test":"datum.value%10==0","value":-12},"value":-6}}},"y2":{"field":"hi"}}},
{"data":{"name":"plus"},"mark":{"type":"circle","size":75,"color":"black","opacity":1}},
{"data":{"name":"cBR"},"transform":[{"filter":"datum.c!='T'"}],"mark":{"type":"line","strokeWidth":2.5,"interpolate":"monotone"},"encoding":{"color":{"field":"c","type":"nominal","scale":{"domain":["T","B","S"],"range":["#0000ff","#000000","#ff0000"]},"legend":{"title":null,"padding":6,"symbolSize":841,"labelFontSize":{"expr":"datum.value=='S' ? 18 : 22"},"labelFontWeight":{"expr":"datum.value=='S' ? 'normal' : 'bold'"},"labelOffset":14,"rowPadding":7,"labelExpr":"datum.label=='T' ? 'Total Fit' : datum.label=='B' ? 'Background' : 'Σb⁺ → Λb⁰π⁺'"}}}},
{"data":{"name":"cBR"},"transform":[{"filter":"datum.c=='T'"}],"mark":{"type":"line","strokeWidth":2.5,"interpolate":"monotone"},"encoding":{"color":{"field":"c","type":"nominal","scale":{"domain":["T","B","S"],"range":["#0000ff","#000000","#ff0000"]},"legend":{"title":null,"padding":6,"symbolSize":841,"labelFontSize":{"expr":"datum.value=='S' ? 18 : 22"},"labelFontWeight":{"expr":"datum.value=='S' ? 'normal' : 'bold'"},"labelOffset":14,"rowPadding":7,"labelExpr":"datum.label=='T' ? 'Total Fit' : datum.label=='B' ? 'Background' : 'Σb⁺ → Λb⁰π⁺'"}}}},
{"data":{"name":"labels"},"transform":[{"filter":"datum.p=='BR'"}],"mark":{"type":"text","text":"Σ","fontSize":34,"fontWeight":"bold","color":"#ff0000","align":"center","baseline":"middle"}},
{"data":{"name":"labels"},"transform":[{"filter":"datum.p=='BR'"}],"mark":{"type":"text","text":"b","fontSize":23,"fontWeight":"bold","color":"#ff0000","align":"left","baseline":"middle","dx":10,"dy":14}},
{"data":{"name":"labels"},"transform":[{"filter":"datum.p=='BR'"}],"mark":{"type":"text","fontSize":22,"fontWeight":"bold","color":"#ff0000","align":"left","baseline":"middle","dx":9,"dy":-12},"encoding":{"text":{"field":"s"}}}
]}
],"spacing":0,"bounds":"flush","resolve":{"scale":{"x":"independent","y":"independent","color":"independent"},"legend":{"color":"independent"}}}
],
"spacing":57,
"resolve":{"scale":{"x":"independent","y":"independent","color":"independent"},"legend":{"color":"independent"}}
}
